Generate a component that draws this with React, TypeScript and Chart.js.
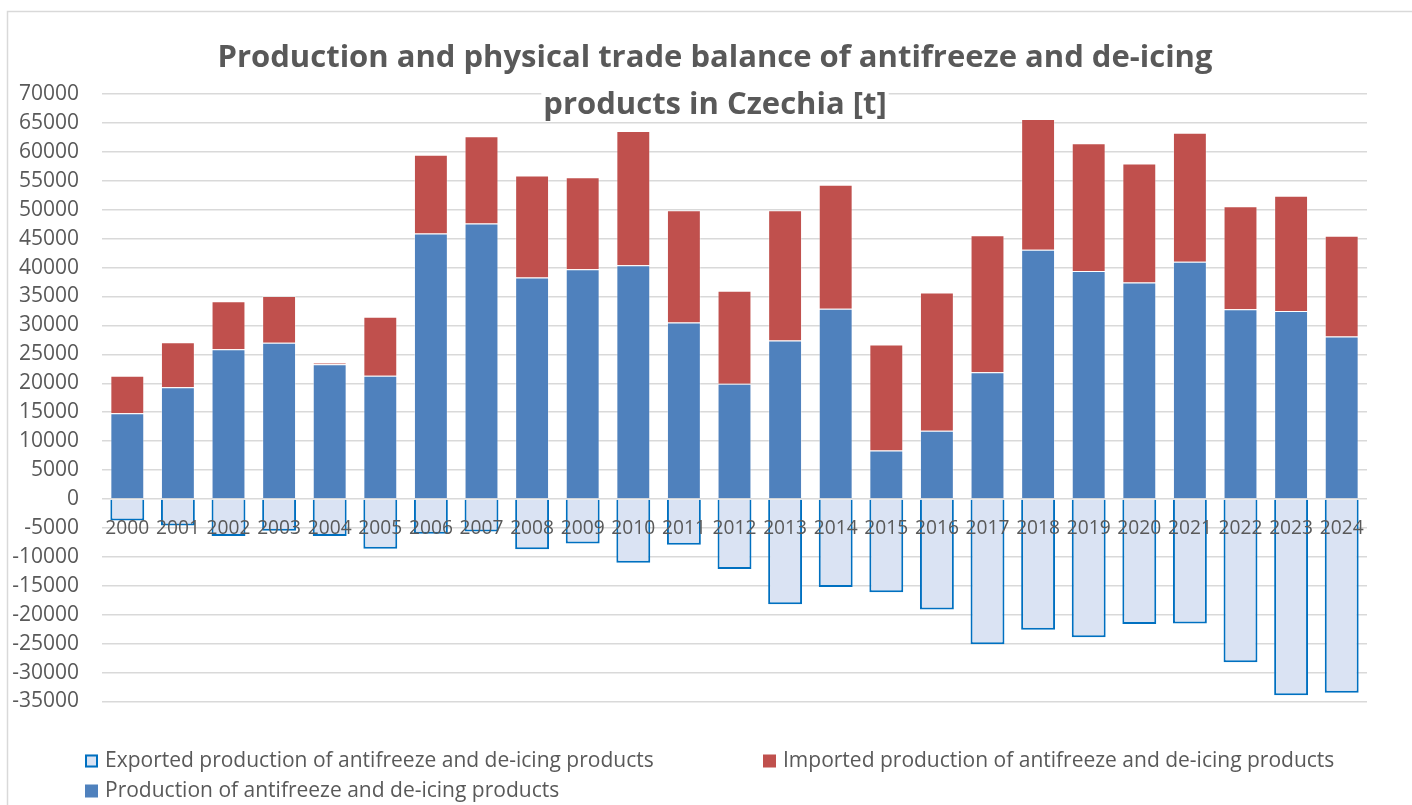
import React, { useEffect, useRef } from "react";
import { Chart, registerables } from "chart.js";

Chart.register(...registerables);

const years = ["2000","2001","2002","2003","2004","2005","2006","2007","2008","2009","2010","2011","2012","2013","2014","2015","2016","2017","2018","2019","2020","2021","2022","2023","2024"];
const production = [14800, 19300, 25900, 27000, 23300, 21300, 45900, 47600, 38300, 39700, 40400, 30500, 19900, 27400, 32900, 8400, 11800, 21900, 43100, 39400, 37400, 41000, 32800, 32500, 28100];
const imported = [6500, 7800, 8300, 8100, 200, 10200, 13600, 15100, 17600, 15900, 23200, 19400, 16100, 22500, 21400, 18300, 23900, 23700, 22600, 22100, 20600, 22300, 17800, 19900, 17400];
const exported = [-3700, -4600, -6400, -5500, -6400, -8600, -6000, -5600, -8700, -7700, -11000, -7900, -12100, -18200, -15200, -16100, -19100, -25100, -22600, -23900, -21600, -21500, -28200, -33900, -33500];
const titleLines = ["Production and physical trade balance of antifreeze and de-icing", "products in Czechia [t]"];
const seriesLabels = [
  "Production of antifreeze and de-icing products",
  "Imported production of antifreeze and de-icing products",
  "Exported production of antifreeze and de-icing products",
];

const TEXT = "#595959";

const decorPlugin = {
  id: "decor",
  beforeDraw(chart: any) {
    const { ctx, width, height } = chart;
    ctx.save();
    ctx.fillStyle = "#ffffff";
    ctx.fillRect(0, 0, width, height);
    ctx.strokeStyle = "#d9d9d9";
    ctx.lineWidth = 1.5;
    ctx.strokeRect(7.5, 11.5, width + 20, height + 20);
    ctx.restore();
  },
  afterDraw(chart: any) {
    const { ctx } = chart;
    const xs = chart.scales.x;
    const ys = chart.scales.y;
    ctx.save();
    // category labels at zero line
    ctx.font = "20px 'Open Sans'";
    ctx.fillStyle = TEXT;
    ctx.textAlign = "center";
    ctx.textBaseline = "middle";
    const y0 = ys.getPixelForValue(0) + 29;
    years.forEach((yr, i) => {
      const x = xs.getPixelForValue(i);
      ctx.save();
      ctx.translate(x, y0);
      ctx.scale(0.96, 1);
      ctx.fillText(yr, 0, 0);
      ctx.restore();
    });
    // title
    ctx.font = "bold 31px 'Open Sans'";
    ctx.textAlign = "center";
    ctx.textBaseline = "alphabetic";
    const baselines = [67, 114];
    titleLines.forEach((line, i) => {
      const w = ctx.measureText(line).width;
      ctx.fillStyle = "#ffffff";
      ctx.fillRect(715 - w / 2 - 2, baselines[i] - 26, w + 4, 34);
      ctx.fillStyle = TEXT;
      ctx.fillText(line, 715, baselines[i]);
    });
    // legend
    const order = [2, 1, 0];
    const pos = [
      { x: 85, y: 761 },
      { x: 763, y: 761 },
      { x: 85, y: 791 },
    ];
    ctx.font = "21px 'Open Sans'";
    ctx.textAlign = "left";
    ctx.textBaseline = "middle";
    order.forEach((di, k) => {
      const ds = chart.data.datasets[di];
      const p = pos[k];
      ctx.fillStyle = ds.backgroundColor;
      ctx.fillRect(p.x, p.y - 6.5, 13, 13);
      if (di === 2) {
        ctx.strokeStyle = ds.borderColor;
        ctx.lineWidth = 2;
        ctx.strokeRect(p.x + 1, p.y - 5.5, 11, 11);
      }
      ctx.fillStyle = TEXT;
      ctx.fillText(ds.label, p.x + 20, p.y);
    });
    ctx.restore();
  },
};

export default function App() {
  const ref = useRef<HTMLCanvasElement | null>(null);
  useEffect(() => {
    document.body.style.margin = "0";
    if (!ref.current) return;
    const chart = new Chart(ref.current, {
      type: "bar",
      data: {
        labels: years,
        datasets: [
          {
            label: seriesLabels[0],
            data: production,
            backgroundColor: "#4f81bd",
            borderColor: "rgba(255,255,255,0.35)",
            borderWidth: 1,
            barPercentage: 0.67,
            categoryPercentage: 1,
          },
          {
            label: seriesLabels[1],
            data: imported,
            backgroundColor: "#c0504d",
            borderColor: "rgba(255,255,255,0.35)",
            borderWidth: 1,
            barPercentage: 0.67,
            categoryPercentage: 1,
          },
          {
            label: seriesLabels[2],
            data: exported,
            backgroundColor: "#dae3f3",
            borderColor: "#0070c0",
            borderWidth: 2,
            barPercentage: 0.67,
            categoryPercentage: 1,
          },
        ],
      },
      options: {
        responsive: false,
        animation: false,
        layout: { padding: { left: 0, top: 94, right: 45, bottom: 103.5 } },
        plugins: {
          legend: { display: false },
          title: { display: false },
          tooltip: { enabled: false },
        },
        scales: {
          x: {
            stacked: true,
            display: false,
          },
          y: {
            stacked: true,
            min: -35000,
            max: 70000,
            afterFit: (s: any) => {
              s.width = 102;
            },
            ticks: {
              stepSize: 5000,
              padding: 23,
              color: TEXT,
              font: { family: "'Open Sans'", size: 21 },
              callback: (v: any) => String(v),
            },
            grid: { color: "#d9d9d9", lineWidth: 1.5, drawTicks: false },
            border: { display: false },
          },
        },
      },
      plugins: [decorPlugin],
    });
    (document as any).fonts?.ready?.then(() => chart.update());
    return () => chart.destroy();
  }, []);
  return (
    <div style={{ width: 1412, height: 805 }}>
      <canvas ref={ref} width={1412} height={805} />
    </div>
  );
}
